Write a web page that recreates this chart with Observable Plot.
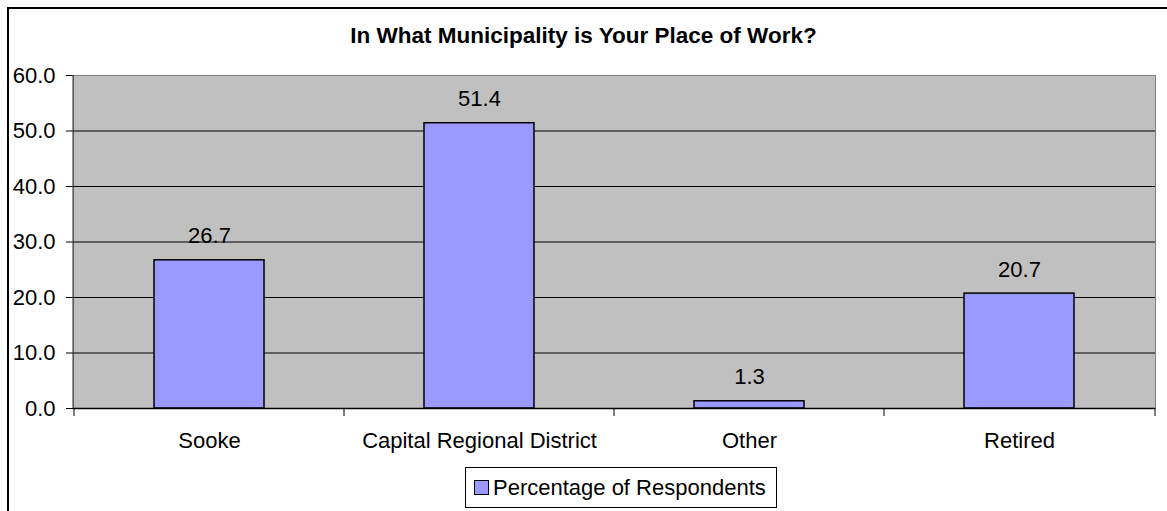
<!DOCTYPE html>
<html><head><meta charset="utf-8">
<script src="https://cdn.jsdelivr.net/npm/d3@7"></script>
<script src="https://cdn.jsdelivr.net/npm/@observablehq/plot@0.6"></script>
<style>
body{margin:0;background:#fff;font-family:"Liberation Sans",Arial,sans-serif;color:#000;}
#wrap{position:relative;width:1167px;height:511px;overflow:hidden;background:#fff;}
#border{position:absolute;left:7px;top:7px;width:1300px;height:600px;border-left:2px solid #000;border-top:2px solid #000;}
#chart{position:absolute;left:0;top:0;}
#title{position:absolute;left:0;width:1167px;top:25px;text-align:center;font-weight:bold;font-size:22.5px;line-height:22px;}
#legend{position:absolute;left:465px;top:467px;width:310px;height:39px;border:1px solid #000;display:flex;align-items:center;font-size:22px;line-height:22px;background:#fff;}
.sw{width:13px;height:13px;border:1px solid #000;background:#9999FF;margin-left:8px;margin-right:4px;flex:none;}
</style></head>
<body>
<div id="wrap">
  <div id="border"></div>
  <div id="chart"></div>
  <div id="title"></div>
  <div id="legend"><div class="sw"></div><span id="legtext"></span></div>
</div>
<script>
const titleText = "In What Municipality is Your Place of Work?";
const seriesName = "Percentage of Respondents";
const categories = ["Sooke", "Capital Regional District", "Other", "Retired"];
const values = [26.7, 51.4, 1.3, 20.7];
const yTicks = [0, 10, 20, 30, 40, 50, 60];

const data = categories.map((c, i) => ({category: c, value: values[i]}));

document.getElementById("title").textContent = titleText;
document.getElementById("legtext").textContent = seriesName;

// category boundary ticks and left axis line, drawn from the plot's own scales
function boundaryMark(index, scales, channels, dims) {
  const g = d3.create("svg:g");
  const xLeft = dims.marginLeft;
  const xRight = dims.width - dims.marginRight;
  const yBottom = dims.height - dims.marginBottom;
  const yTop = dims.marginTop;
  const xs = categories.map(c => scales.x(c)).concat([xRight]);
  g.selectAll("line.b").data(xs).join("line")
    .attr("x1", d => d).attr("x2", d => d)
    .attr("y1", yBottom).attr("y2", yBottom + 8)
    .attr("stroke", "#000").attr("stroke-width", 1);
  g.append("line")
    .attr("x1", xLeft).attr("x2", xLeft)
    .attr("y1", yTop).attr("y2", yBottom)
    .attr("stroke", "#333").attr("stroke-width", 1);
  return g.node();
}

const chart = Plot.plot({
  width: 1167,
  height: 460,
  marginLeft: 73,
  marginRight: 12,
  marginTop: 75,
  marginBottom: 52,
  style: {fontFamily: "'Liberation Sans', Arial, sans-serif", fontSize: "22px", color: "#000", background: "transparent", overflow: "visible"},
  x: {domain: categories, padding: 0, tickSize: 0, tickPadding: 24, label: null},
  y: {domain: [0, 60], ticks: yTicks, tickFormat: d => d.toFixed(1), tickSize: 7, tickPadding: 11, label: null},
  marks: [
    Plot.frame({fill: "#C0C0C0", stroke: "#808080"}),
    Plot.ruleY(yTicks.filter(v => v > 0 && v < 60), {stroke: "#000", strokeWidth: 1}),
    Plot.barY(data, {x: "category", y: "value", fill: "#9999FF", stroke: "#000", strokeWidth: 1.5, insetLeft: 80, insetRight: 80}),
    Plot.ruleY([0], {stroke: "#000", strokeWidth: 1.5}),
    boundaryMark,
    Plot.text(data, {x: "category", y: "value", text: d => d.value.toFixed(1), lineAnchor: "bottom", dy: -17, fontSize: 22, fill: "#000"})
  ]
});
document.getElementById("chart").appendChild(chart);
</script>
</body></html>
